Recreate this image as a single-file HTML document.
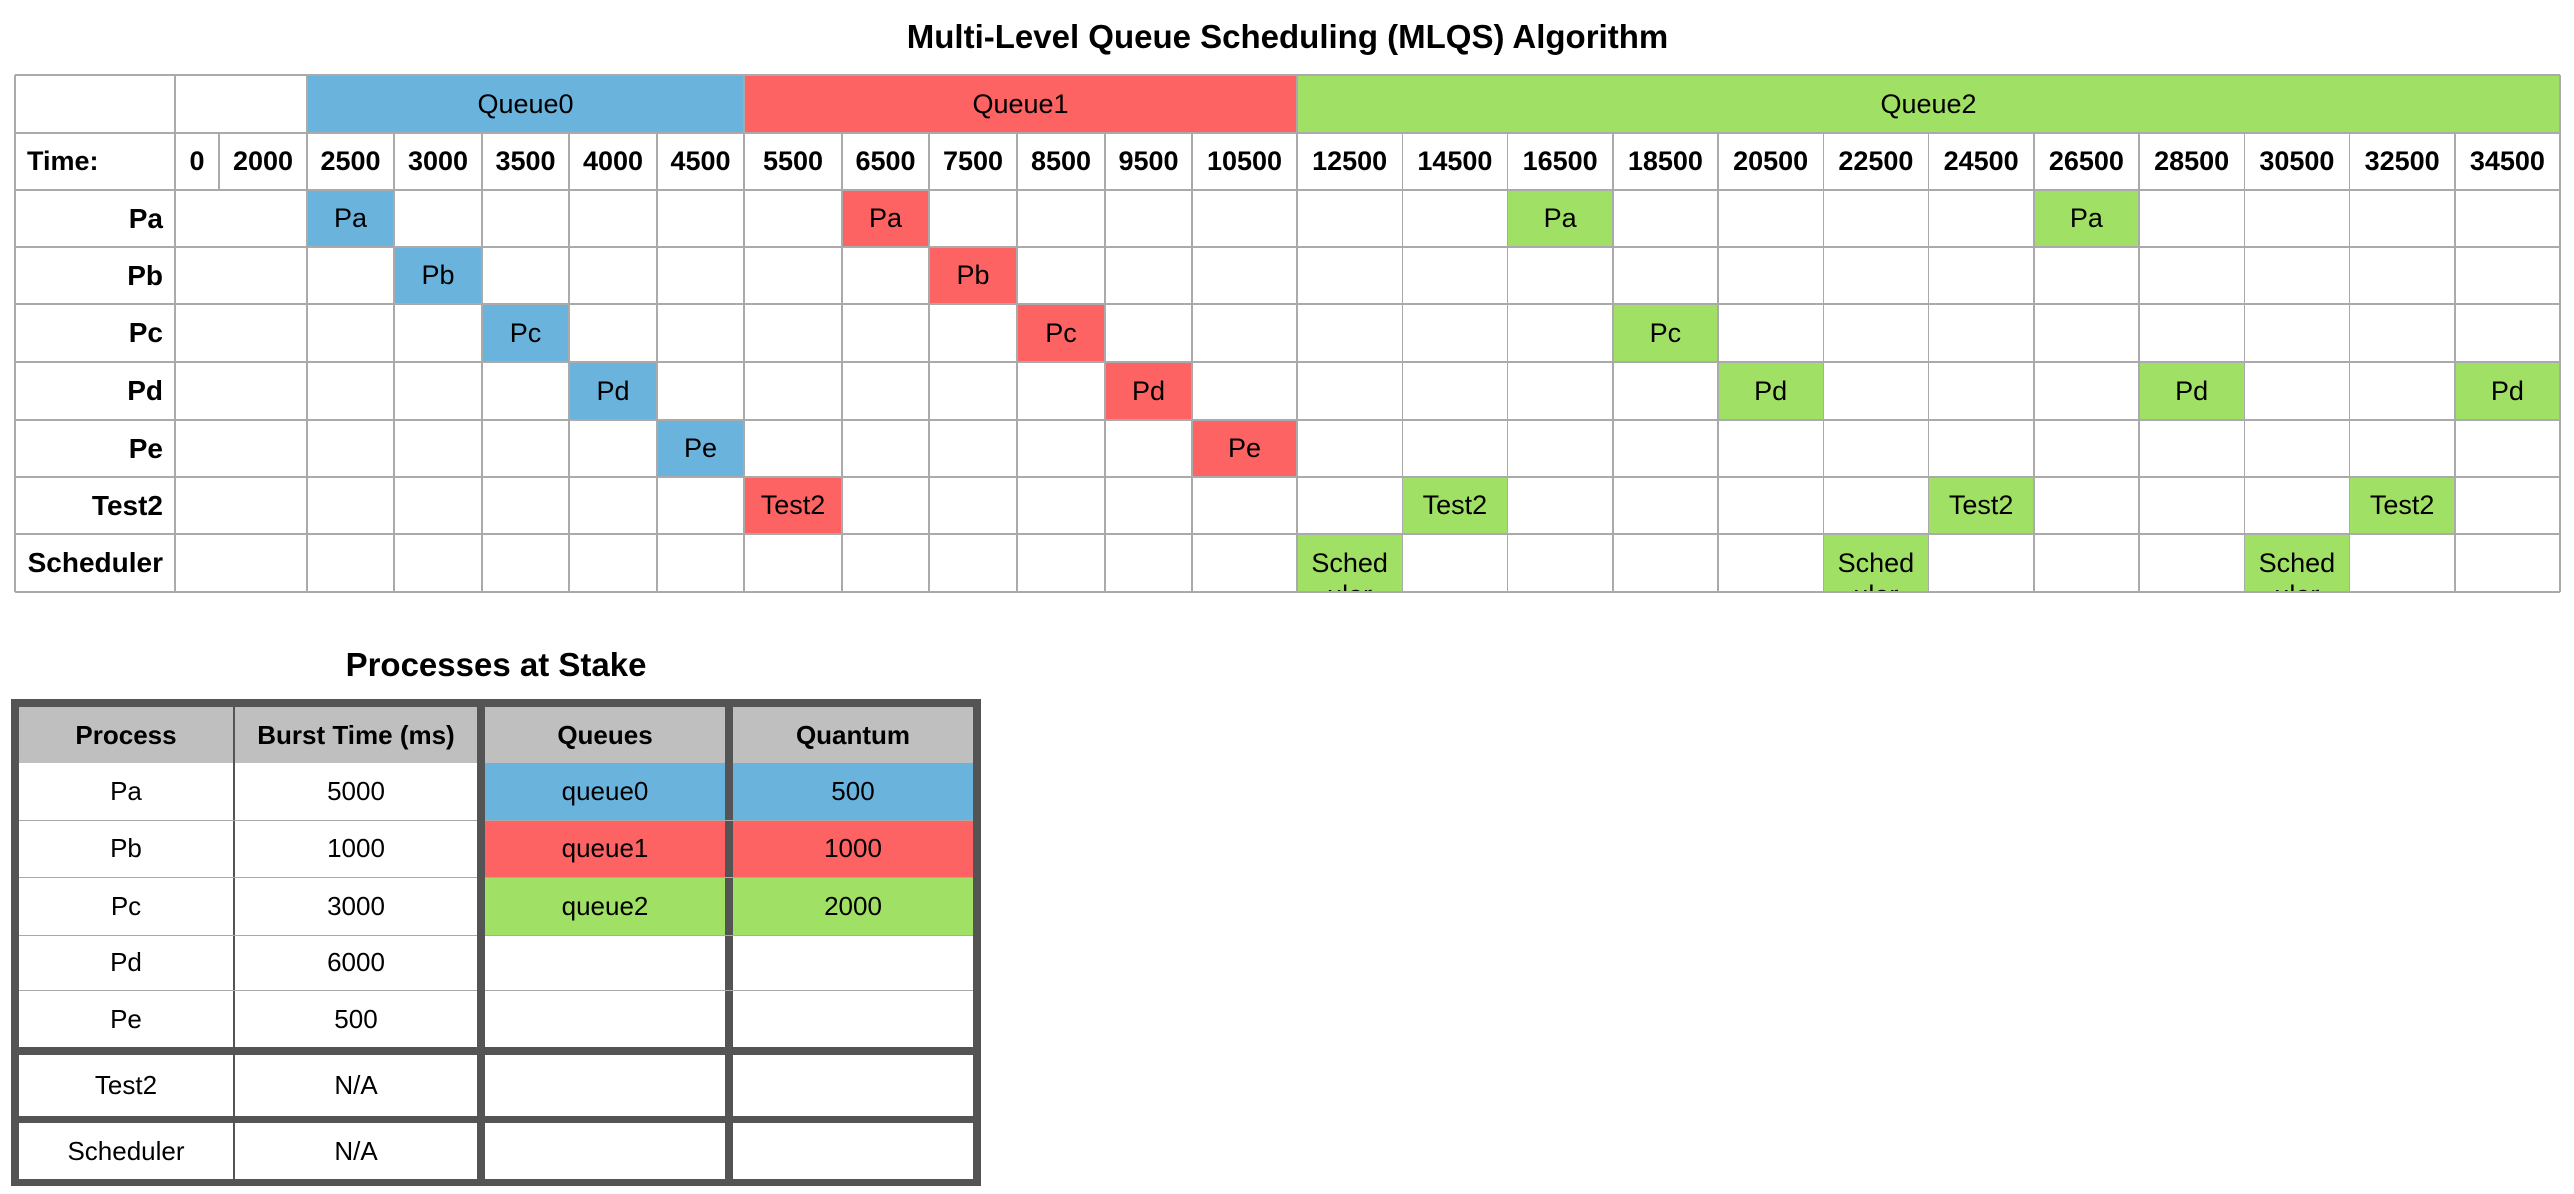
<!DOCTYPE html>
<html><head><meta charset="utf-8"><style>
body{margin:0;width:2574px;height:1194px;background:#fff;position:relative;overflow:hidden;font-family:"Liberation Sans",Arial,sans-serif;color:#000}
.a{position:absolute;box-sizing:border-box}
.c{display:flex;align-items:center;justify-content:center;white-space:nowrap;overflow:hidden}
.t{font-size:27px}
.b{font-weight:bold}
</style></head><body>
<div class="a c b" style="left:15px;width:2545px;top:16px;height:42px;font-size:33px">Multi-Level Queue Scheduling (MLQS) Algorithm</div>
<div id="grid"></div>

<div class="a c b" style="left:11px;width:970px;top:644px;height:42px;font-size:33px">Processes at Stake</div>
<div id="ptable"></div>

<script>
// ---- schedule data ----
const times = ["0","2000","2500","3000","3500","4000","4500","5500","6500","7500","8500","9500","10500","12500","14500","16500","18500","20500","22500","24500","26500","28500","30500","32500","34500"];
const processes = ["Pa","Pb","Pc","Pd","Pe","Test2","Scheduler"];
const queueNames = ["Queue0","Queue1","Queue2"];
const queueStart = ["2500","5500","12500"];
const queueEnd = ["4500","10500","34500"];
const runPa = ["2500","6500","16500","26500"];
const runPb = ["3000","7500"];
const runPc = ["3500","8500","18500"];
const runPd = ["4000","9500","20500","28500","34500"];
const runPe = ["4500","10500"];
const runTest2 = ["5500","14500","24500","32500"];
const runScheduler = ["12500","22500","30500"];
const runs = [runPa,runPb,runPc,runPd,runPe,runTest2,runScheduler];
const queueColors = ["#69b3dd","#fe6363","#a0e064"];

// layout
const colEdges=[175,219,307,394,482,569,657,744,842,929,1017,1105,1192,1297];
for(let i=1;i<=12;i++) colEdges.push(1297+105.25*i);
const leftX=15;
const rowEdges=[75,133,190,247,304,362,420,477,534,592];
const grid=document.getElementById('grid');
function div(cls,l,t,w,h,txt,bg){const d=document.createElement('div');d.className='a '+cls;d.style.left=l+'px';d.style.top=t+'px';d.style.width=w+'px';d.style.height=h+'px';if(bg)d.style.background=bg;if(txt!=null)d.textContent=txt;grid.appendChild(d);return d;}
function qIndex(t){const v=+t;for(let q=0;q<queueNames.length;q++){if(v>=+queueStart[q]&&v<=+queueEnd[q])return q;}return -1;}
let d=div('',leftX,rowEdges[0],colEdges[0]-leftX,rowEdges[1]-rowEdges[0]);


d=div('',colEdges[0],rowEdges[0],colEdges[2]-colEdges[0],rowEdges[1]-rowEdges[0]);


queueNames.forEach((q,i)=>{const s=times.indexOf(queueStart[i]),e=times.indexOf(queueEnd[i]);
 const x0=colEdges[s],x1=colEdges[e+1];
 const el=div('c t',x0,rowEdges[0],x1-x0,rowEdges[1]-rowEdges[0],q,queueColors[i]);
 
 });
d=div('c t b',leftX,rowEdges[1],colEdges[0]-leftX,rowEdges[2]-rowEdges[1],'Time:');
d.style.justifyContent='flex-start';d.style.paddingLeft='12px';


times.forEach((t,i)=>{const el=div('c t b',colEdges[i],rowEdges[1],colEdges[i+1]-colEdges[i],rowEdges[2]-rowEdges[1],t);
 
 });
processes.forEach((p,r)=>{const y0=rowEdges[r+2],h=rowEdges[r+3]-y0;
 const lab=div('c t b',leftX,y0,colEdges[0]-leftX,h,p);lab.style.justifyContent='flex-end';lab.style.paddingRight='12px';lab.style.fontSize='28px';
 
 
 runs[r].forEach(t=>{const i=times.indexOf(t);const q=qIndex(t);
  const x0=colEdges[i],w=colEdges[i+1]-x0;
  const el=div('t',x0,y0,w,h,null,q>=0?queueColors[q]:'#ccc');
  el.style.overflow='hidden';el.style.textAlign='center';
  if(p==='Scheduler'){el.style.lineHeight='32px';el.style.paddingTop='13px';el.innerHTML='Sched<br>uler';}
  else{el.style.display='flex';el.style.alignItems='center';el.style.justifyContent='center';el.textContent=p;}
  
  });
});
function hl(y,x0,x1){const e=div('',x0,y-0.75,x1-x0,1.5,null,'#aaa');}
function vl(x,y0,y1){const e=div('',x-0.75,y0,1.5,y1-y0,null,'#aaa');}
const R=colEdges[colEdges.length-1];
rowEdges.forEach(y=>hl(y,leftX,R));
vl(leftX,rowEdges[0],rowEdges[9]);vl(colEdges[0],rowEdges[0],rowEdges[9]);
colEdges.forEach((x,i)=>{if(i===0)return;if(i===1){vl(x,rowEdges[1],rowEdges[2]);return;}vl(x,rowEdges[1],rowEdges[9]);});
[colEdges[2],colEdges[7],colEdges[13],R].forEach(x=>vl(x,rowEdges[0],rowEdges[1]));

// ---- processes table ----
const pNames=["Pa","Pb","Pc","Pd","Pe","Test2","Scheduler"];
const bursts=["5000","1000","3000","6000","500","N/A","N/A"];
const qLabels=["queue0","queue1","queue2"];
const quanta=["500","1000","2000"];
const pt=document.getElementById('ptable');
function pd(cls,l,t,w,h,txt,bg,name){const e=document.createElement('div');e.className='a '+cls;e.style.left=l+'px';e.style.top=t+'px';e.style.width=w+'px';e.style.height=h+'px';if(bg)e.style.background=bg;if(txt!=null)e.textContent=txt;e.style.fontSize='26px';pt.appendChild(e);return e;}
pd('',11,699,970,487,null,'#545454','table-frame');
const cx=[[19,233],[235,477],[485,725],[733,973]];
const ry=[[707,763],[763,821],[821,878],[878,936],[936,991],[991,1047],[1055,1116],[1123,1179]];
const heads=["Process","Burst Time (ms)","Queues","Quantum"];
heads.forEach((h,i)=>pd('c b',cx[i][0],ry[0][0],cx[i][1]-cx[i][0],ry[0][1]-ry[0][0],h,'#bfbfbf','header-'+h.split(' ')[0].toLowerCase()));
for(let r=0;r<7;r++){const y0=ry[r+1][0],h=ry[r+1][1]-y0-(r<4?1.5:0);
 pd('c',cx[0][0],y0,cx[0][1]-cx[0][0],h,pNames[r],'#fff','cell-process-'+pNames[r].toLowerCase());
 pd('c',cx[1][0],y0,cx[1][1]-cx[1][0],h,bursts[r],'#fff','cell-burst-'+pNames[r].toLowerCase());
 pd('c',cx[2][0],y0,cx[2][1]-cx[2][0],h,r<3?qLabels[r]:'',r<3?queueColors[r]:'#fff','cell-queue-'+r);
 pd('c',cx[3][0],y0,cx[3][1]-cx[3][0],h,r<3?quanta[r]:'',r<3?queueColors[r]:'#fff','cell-quantum-'+r);
 if(r<4){pd('',cx[0][0],y0+h,cx[1][1]-cx[0][0],1.5,null,'#aaa','row-line');pd('',cx[2][0],y0+h,cx[3][1]-cx[2][0],1.5,null,'#aaa','row-line');}
}
</script>
</body></html>
